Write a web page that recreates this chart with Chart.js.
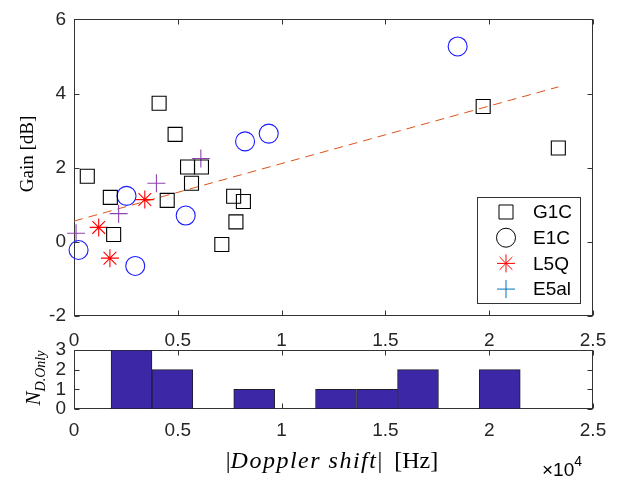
<!DOCTYPE html>
<html>
<head>
<meta charset="utf-8">
<script src="https://cdn.jsdelivr.net/npm/chart.js@4.4.1/dist/chart.umd.min.js"></script>
<style>
  html, body { margin: 0; padding: 0; background: #fff; }
  #wrap { position: relative; width: 622px; height: 479px; }
  #wrap canvas { position: absolute; left: 0; top: 0; }
</style>
</head>
<body>
<div id="wrap">
  <canvas id="hist" width="622" height="479"></canvas>
  <canvas id="main" width="622" height="479"></canvas>
</div>
<script>
/* Gain vs |Doppler shift| scatter with a histogram of Doppler-only cases underneath. x in units of 1e4 Hz. */

const G1C_X = [0.064, 0.175, 0.191, 0.410, 0.449, 0.487, 0.547, 0.566, 0.614, 0.712, 0.769, 0.780, 0.816, 1.971, 2.333];
const G1C_Y = [1.77, 1.20, 0.20, 3.74, 1.12, 2.90, 2.02, 1.58, 2.02, -0.07, 1.23, 0.54, 1.09, 3.65, 2.53];
const E1C_X = [0.022, 0.253, 0.295, 0.538, 0.824, 0.938, 1.848];
const E1C_Y = [-0.22, 1.24, -0.65, 0.71, 2.71, 2.92, 5.27];
const L5Q_X = [0.119, 0.173, 0.341];
const L5Q_Y = [0.39, -0.44, 1.14];
const E5AL_X = [0.010, 0.215, 0.397, 0.611];
const E5AL_Y = [0.23, 0.76, 1.58, 2.25];
const FIT_X = [0, 2.333];
const FIT_Y = [0.56, 4.18];

const BIN_CENTERS = [0.277, 0.474, 0.671, 0.868, 1.065, 1.262, 1.460, 1.657, 1.854, 2.051];
const BIN_COUNTS = [3, 2, 0, 1, 0, 1, 1, 2, 0, 2];

const X_RANGE = [0, 2.5];
const GAIN_RANGE = [-2, 6];
const COUNT_RANGE = [0, 3];

const AXIS = "#333333";
const SANS = "'Liberation Sans', Arial, sans-serif";
const SERIF = "'Liberation Serif', 'Times New Roman', serif";

const pts = (xs, ys) => xs.map((x, i) => ({ x, y: ys[i] }));
const num = (v) => String(+(+v).toFixed(2));

// MATLAB-ish box with inward ticks on all four sides
const boxTicks = {
  id: "boxTicks",
  beforeDatasetsDraw(chart) {
    const { ctx, chartArea: a, scales } = chart;
    const L = Math.round(a.left) + 0.5, R = Math.round(a.right) - 0.5;
    const T = Math.round(a.top) + 0.5, B = Math.round(a.bottom) - 0.5;
    ctx.save();
    ctx.strokeStyle = AXIS;
    ctx.lineWidth = 1;
    ctx.strokeRect(L, T, R - L, B - T);
    ctx.beginPath();
    scales.x.ticks.forEach((t) => {
      const px = Math.round(scales.x.getPixelForValue(t.value)) + 0.5;
      ctx.moveTo(px, B); ctx.lineTo(px, B - 5);
      ctx.moveTo(px, T); ctx.lineTo(px, T + 5);
    });
    scales.y.ticks.forEach((t) => {
      const py = Math.round(scales.y.getPixelForValue(t.value)) + 0.5;
      ctx.moveTo(L, py); ctx.lineTo(L + 5, py);
      ctx.moveTo(R, py); ctx.lineTo(R - 5, py);
    });
    ctx.stroke();
    ctx.restore();
  },
};

// legend box in the lower right of the scatter
const boxLegend = {
  id: "boxLegend",
  afterDatasetsDraw(chart) {
    const { ctx } = chart;
    const items = chart.data.datasets.filter((d) => d.inLegend);
    const x0 = 477, y0 = 197, w = 103, h = 106;
    ctx.save();
    ctx.fillStyle = "#fff";
    ctx.fillRect(x0, y0, w, h);
    ctx.strokeStyle = AXIS;
    ctx.lineWidth = 1;
    ctx.strokeRect(x0 + 0.5, y0 + 0.5, w, h);
    ctx.font = `19px ${SANS}`;
    ctx.textBaseline = "middle";
    items.forEach((d, i) => {
      const y = y0 + 15 + i * 25.7;
      ctx.strokeStyle = d.legendColor;
      ctx.fillStyle = "rgba(0,0,0,0)";
      ctx.lineWidth = 1;
      Chart.helpers.drawPoint(ctx, { pointStyle: d.pointStyle, radius: d.pointRadius, rotation: 0, borderWidth: 1 }, 506, y);
      ctx.fillStyle = "#000";
      ctx.fillText(d.label, 533, y + 1);
    });
    ctx.restore();
  },
};

function drawRuns(ctx, runs, x, y) {
  runs.forEach(([text, font, dy, sp]) => {
    ctx.font = font;
    ctx.letterSpacing = sp || "0px";
    ctx.fillText(text, x, y + (dy || 0));
    x += ctx.measureText(text).width;
  });
  ctx.letterSpacing = "0px";
}
function runsWidth(ctx, runs) {
  const w = runs.reduce((s, [text, font, , sp]) => {
    ctx.font = font;
    ctx.letterSpacing = sp || "0px";
    return s + ctx.measureText(text).width;
  }, 0);
  ctx.letterSpacing = "0px";
  return w;
}

const mainTitles = {
  id: "mainTitles",
  afterDraw(chart) {
    const { ctx } = chart;
    ctx.save();
    ctx.fillStyle = "#000";
    ctx.translate(33, 154);
    ctx.rotate(-Math.PI / 2);
    ctx.font = `19px ${SERIF}`;
    ctx.textAlign = "center";
    ctx.textBaseline = "alphabetic";
    ctx.fillText("Gain [dB]", 0, 0);
    ctx.restore();
  },
};

const histTitles = {
  id: "histTitles",
  afterDraw(chart) {
    const { ctx } = chart;
    ctx.save();
    ctx.fillStyle = "#000";
    ctx.textBaseline = "alphabetic";
    // N_{D.Only}
    const nRuns = [["N", `italic 21px ${SERIF}`], ["D.Only", `italic 14px ${SERIF}`, 5]];
    ctx.save();
    ctx.translate(40, 378);
    ctx.rotate(-Math.PI / 2);
    drawRuns(ctx, nRuns, -runsWidth(ctx, nRuns) / 2, 0);
    ctx.restore();
    // |Doppler shift| [Hz]
    const xRuns = [
      ["|", `24px ${SERIF}`],
      ["Doppler shift", `italic 24px ${SERIF}`, 0, "1.5px"],
      ["|  [Hz]", `24px ${SERIF}`],
    ];
    drawRuns(ctx, xRuns, 332 - runsWidth(ctx, xRuns) / 2, 468);
    // exponent
    drawRuns(ctx, [["\u00d710", `19px ${SANS}`], ["4", `14px ${SANS}`, -10]], 542, 476);
    ctx.restore();
  },
};

const tickFont = { family: SANS, size: 19 };
const xScale = (pad) => ({
  type: "linear",
  min: X_RANGE[0], max: X_RANGE[1],
  offset: false,
  grid: { display: false, drawTicks: false, offset: false },
  border: { display: false },
  ticks: { stepSize: 0.5, padding: pad, color: "#262626", font: tickFont, maxRotation: 0, autoSkip: false, callback: num },
  afterFit: (s) => { s.height = 50; },
});

new Chart(document.getElementById("hist"), {
  type: "bar",
  data: {
    datasets: [{
      data: pts(BIN_CENTERS, BIN_COUNTS),
      backgroundColor: "#3c28a6",
      borderColor: "#1e1e2e",
      borderWidth: 1,
      borderSkipped: false,
      barPercentage: 1,
      categoryPercentage: 1,
    }],
  },
  options: {
    responsive: false,
    animation: false,
    devicePixelRatio: 1,
    layout: { padding: { left: 0, top: 350, right: 29, bottom: 20 } },
    plugins: { legend: { display: false }, tooltip: { enabled: false } },
    scales: {
      x: xScale(10),
      y: {
        min: COUNT_RANGE[0], max: COUNT_RANGE[1],
        grid: { display: false, drawTicks: false },
        border: { display: false },
        ticks: { stepSize: 1, padding: 8, color: "#262626", font: tickFont, autoSkip: false, callback: num },
        afterFit: (s) => { s.width = 74; },
      },
    },
  },
  plugins: [boxTicks, histTitles],
});

new Chart(document.getElementById("main"), {
  type: "scatter",
  data: {
    datasets: [
      { label: "G1C", data: pts(G1C_X, G1C_Y), pointStyle: "rect", pointRadius: 9.9, borderColor: "#000", legendColor: "#000", inLegend: true },
      { label: "E1C", data: pts(E1C_X, E1C_Y), pointStyle: "circle", pointRadius: 9.5, borderColor: "#1a1aff", legendColor: "#000", inLegend: true },
      { label: "L5Q", data: pts(L5Q_X, L5Q_Y), pointStyle: "star", pointRadius: 9, borderColor: "#ff0000", legendColor: "#ff0000", inLegend: true },
      { label: "E5al", data: pts(E5AL_X, E5AL_Y), pointStyle: "cross", pointRadius: 9, borderColor: "#8e44ad", legendColor: "#0072bd", inLegend: true },
      { label: "fit", type: "line", data: pts(FIT_X, FIT_Y), borderColor: "#d95319", borderWidth: 1, borderDash: [9, 6], pointRadius: 0, fill: false },
    ].map((d) => ({ backgroundColor: "rgba(0,0,0,0)", pointBorderWidth: 1.1, clip: false, ...d })),
  },
  options: {
    responsive: false,
    animation: false,
    devicePixelRatio: 1,
    layout: { padding: { left: 0, top: 16, right: 29, bottom: 113 } },
    plugins: { legend: { display: false }, tooltip: { enabled: false } },
    scales: {
      x: xScale(13),
      y: {
        min: GAIN_RANGE[0], max: GAIN_RANGE[1],
        grid: { display: false, drawTicks: false },
        border: { display: false },
        ticks: { stepSize: 2, padding: 8, color: "#262626", font: tickFont, callback: num },
        afterFit: (s) => { s.width = 74; },
      },
    },
  },
  plugins: [boxTicks, boxLegend, mainTitles],
});
</script>
</body>
</html>
